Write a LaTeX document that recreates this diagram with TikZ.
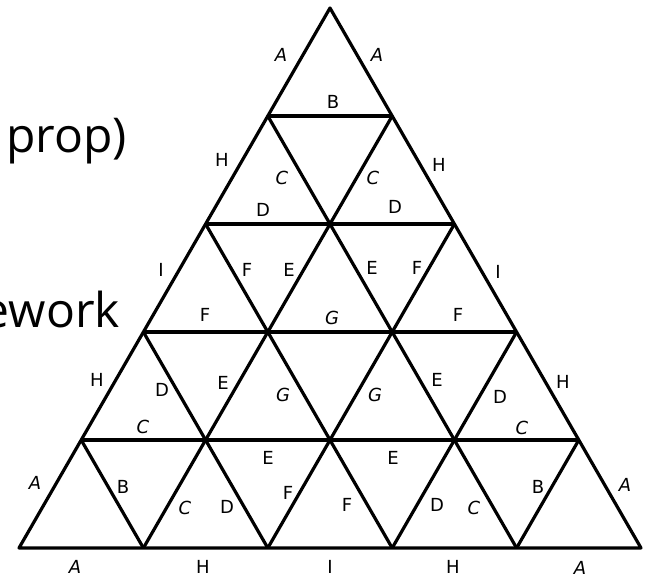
\documentclass[tikz,border=0pt]{standalone}
\usepackage{fontspec}
\newfontfamily\sidefont{Open Sans}
\newfontfamily\lblfont{DejaVu Sans}
\usetikzlibrary{positioning}

\begin{document}
\begin{tikzpicture}[
        x=1pt, y=-1pt,
        edge/.style={line width=3.2pt, line join=round, black},
        lbl/.style={inner sep=0pt, font=\lblfont\fontsize{18}{18}\selectfont},
        slant/.style={lbl, font=\lblfont\itshape\fontsize{18}{18}\selectfont},
        side/.style={inner sep=0pt, anchor=base east, font=\sidefont\fontsize{48}{52}\selectfont}
    ]
        \useasboundingbox (0,0) rectangle (645,580);

        % Grid points (row r, position i)
        \foreach \r in {0,...,5}
            \foreach \i in {0,...,\r}
                \coordinate (v\r\i) at ({330+62.2*(2*\i-\r)}, {8+108*\r});

        % Side text
        \node[side] (prop) at (127,153) {prop)};
        \node[side] (ework) at (120,327) {ework};

        % Connections
        \draw[edge] (v00) -- (v50) -- (v55) -- cycle;
        \foreach \r in {1,...,4}
            \draw[edge] (v\r0) -- (v\r\r);
        \foreach \i in {1,...,4}
            \draw[edge] (v\i\i) -- (v5\i);
        \foreach \k [evaluate=\k as \m using int(5-\k)] in {1,...,4}
            \draw[edge] (v\k0) -- (v5\m);

        % Upright letters
        \foreach \t/\x/\y [count=\n] in {
            B/333/102, H/222/160, H/439/165, D/263/210, D/395/207,
            I/161/270, I/498/272, F/247/270, E/289/270, E/372/268, F/417/268,
            F/205/315, F/458/315,
            H/97/380, D/162/390, E/223/383, E/437/380, D/500/397, H/563/382,
            B/123/487, D/227/507, E/268/458, F/288/493, F/347/505, E/393/458,
            D/437/505, B/538/487,
            H/203/567, I/330/567, H/453/567}
            \node[lbl] (up\n) at (\x,\y) {\t};

        % Slanted letters
        \foreach \t/\x/\y [count=\n] in {
            A/281/55, A/377/55, C/282/178, C/373/178, G/332/318,
            G/283/395, C/143/427, G/375/395, C/522/428,
            A/35/483, C/185/508, C/474/508, A/625/485,
            A/75/567, A/580/568}
            \node[slant] (sl\n) at (\x,\y) {\t};

    \end{tikzpicture}
\end{document}
